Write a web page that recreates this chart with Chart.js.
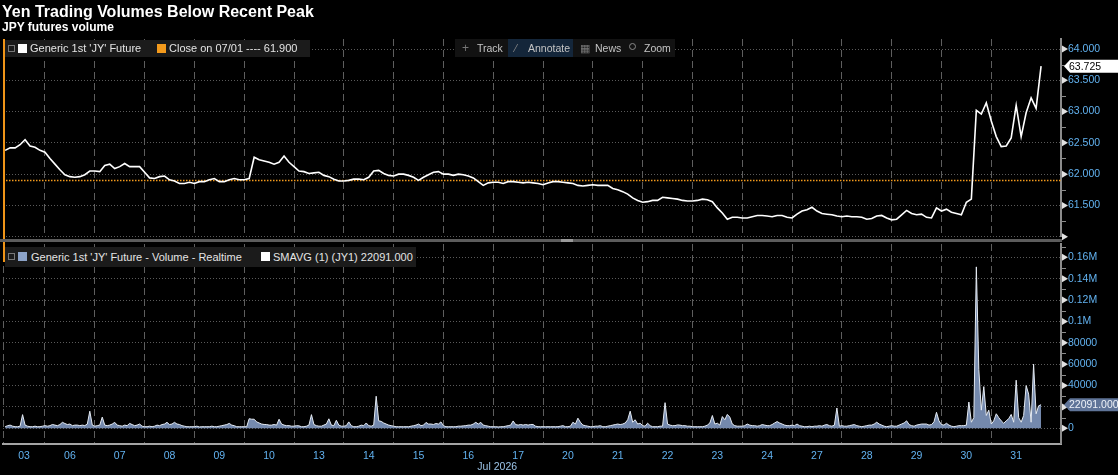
<!DOCTYPE html>
<html>
<head>
<meta charset="utf-8">
<script src="https://cdn.jsdelivr.net/npm/chart.js@4.4.1/dist/chart.umd.min.js"></script>
<style>
html,body{margin:0;padding:0;background:#000;width:1118px;height:475px;overflow:hidden;font-family:"Liberation Sans",Arial,sans-serif;}
#wrap{position:relative;width:1118px;height:475px;background:#000;}
canvas{position:absolute;left:0;}
.t{position:absolute;color:#fff;white-space:nowrap;}
.box{position:absolute;background:#1b1b1b;}
.lt{position:absolute;font-size:11px;color:#e4e4e4;white-space:nowrap;}
.sq{position:absolute;width:9px;height:9px;}
.ic{position:absolute;width:5px;height:5px;border:1px solid #777;}
.tb{position:absolute;font-size:10.5px;color:#c4c4c4;white-space:nowrap;line-height:18px;top:39px;}
</style>
</head>
<body>
<div id="wrap">
<canvas id="cTop" width="1118" height="242" style="top:0;width:1118px;height:242px"></canvas>
<canvas id="cBot" width="1118" height="233" style="top:242px;width:1118px;height:233px"></canvas>

<div class="t" style="left:2px;top:2px;font:bold 16px 'Liberation Sans',Arial,sans-serif;line-height:19px;">Yen Trading Volumes Below Recent Peak</div>
<div class="t" style="left:2px;top:20px;font:bold 12px 'Liberation Sans',Arial,sans-serif;line-height:14px;">JPY futures volume</div>

<div style="position:absolute;left:3px;top:39px;width:2px;height:223px;background:#ef9418;"></div>
<div style="position:absolute;left:0;top:239px;width:1062px;height:3px;background:#5c5c5c;"></div>
<div style="position:absolute;left:561px;top:239px;width:12px;height:3px;background:#9a9a9a;"></div>

<!-- top legend -->
<div class="box" style="left:5px;top:40px;width:305px;height:17px;"></div>
<div class="ic" style="left:8px;top:45px;"></div>
<div class="sq" style="left:18px;top:44px;background:#fff;"></div>
<div class="lt" style="left:30px;top:40px;line-height:17px;">Generic 1st 'JY' Future</div>
<div class="sq" style="left:157px;top:44px;background:#f39a1c;"></div>
<div class="lt" style="left:169px;top:40px;line-height:17px;">Close on 07/01 ---- 61.900</div>

<!-- toolbar -->
<div class="box" style="left:455px;top:39px;width:220px;height:18px;background:#121212;"></div>
<div class="box" style="left:508px;top:39px;width:65px;height:18px;background:#14263a;"></div>
<div class="tb" style="left:462px;color:#777;font-size:12px;">+</div>
<div class="tb" style="left:477px;">Track</div>
<div class="tb" style="left:515px;color:#888;">&#8260;</div>
<div class="tb" style="left:528px;">Annotate</div>
<div class="tb" style="left:580px;color:#777;">&#9638;</div>
<div class="tb" style="left:595px;">News</div>
<div style="position:absolute;left:629px;top:43px;width:5px;height:5px;border:1px solid #888;border-radius:50%;"></div>
<div class="tb" style="left:644px;">Zoom</div>

<!-- bottom legend -->
<div class="box" style="left:5px;top:247px;width:411px;height:20px;"></div>
<div class="ic" style="left:8px;top:253px;"></div>
<div class="sq" style="left:18px;top:252px;background:#8ca3c8;"></div>
<div class="lt" style="left:31px;top:247px;line-height:20px;">Generic 1st 'JY' Future - Volume - Realtime</div>
<div class="sq" style="left:261px;top:252px;background:#fff;"></div>
<div class="lt" style="left:273px;top:247px;line-height:20px;">SMAVG (1) (JY1) 22091.000</div>
</div>

<script>
// ---------------- data ----------------
// day session boundaries (x index units) and day labels
const dayBounds = [-0.3, 8, 18, 28, 38, 48, 58, 68, 78, 88, 98, 108, 118, 128, 138, 148, 158, 168, 178, 188, 198];
const dayLabelPos = [3.8, 13, 23, 33, 43, 53, 63, 73, 83, 93, 103, 113, 123, 133, 143, 153, 163, 173, 183, 193, 203];
const dayLabels = ['03','06','07','08','09','10','13','14','15','16','17','20','21','22','23','24','27','28','29','30','31'];
const monthLabel = 'Jul 2026';
const monthLabelPos = 98.8;

// price axis ticks
const priceTicks = [61.0, 61.5, 62.0, 62.5, 63.0, 63.5, 64.0];
const priceTickLabels = ['', '61.500', '62.000', '62.500', '63.000', '63.500', '64.000'];
// volume axis ticks (thousands of contracts)
const volTicks = [0, 20, 40, 60, 80, 100, 120, 140, 160];
const volTickLabels = ['0', '20000', '40000', '60000', '80000', '0.1M', '0.12M', '0.14M', '0.16M'];

const closeLevel = 61.9;

// Generic 1st 'JY' Future price, one value per x step
const priceVals = [
62.38,62.42,62.42,62.47,62.55,62.45,62.43,62.38,62.35,62.25,
62.16,62.07,61.99,61.96,61.95,61.96,61.99,62.05,62.05,62.04,
62.14,62.16,62.09,62.12,62.17,62.12,62.12,62.12,62.03,61.94,
61.93,61.96,61.97,61.91,61.89,61.85,61.85,61.87,61.85,61.88,
61.88,61.91,61.93,61.88,61.88,61.91,61.93,61.91,61.91,61.93,
62.27,62.23,62.21,62.19,62.16,62.19,62.29,62.19,62.12,62.05,
62.04,62.01,62.02,62.03,61.98,61.96,61.92,61.89,61.89,61.90,
61.92,61.92,61.91,61.95,62.05,62.06,62.01,61.98,61.97,62.00,
62.00,61.98,61.95,61.90,61.95,61.99,62.03,62.04,62.00,62.00,
61.98,62.00,61.99,61.97,61.94,61.88,61.82,61.86,61.87,61.87,
61.85,61.88,61.88,61.87,61.86,61.87,61.86,61.85,61.83,61.86,
61.88,61.88,61.87,61.86,61.85,61.82,61.81,61.82,61.83,61.82,
61.82,61.82,61.77,61.75,61.72,61.68,61.62,61.58,61.55,61.56,
61.58,61.58,61.63,61.62,61.61,61.60,61.58,61.57,61.57,61.58,
61.60,61.59,61.56,61.46,61.38,61.28,61.31,61.31,61.30,61.30,
61.32,61.34,61.34,61.33,61.32,61.34,61.34,61.31,61.30,61.36,
61.41,61.43,61.47,61.41,61.37,61.36,61.35,61.33,61.32,61.33,
61.32,61.32,61.31,61.28,61.29,61.33,61.34,61.30,61.27,61.28,
61.35,61.42,61.37,61.35,61.36,61.31,61.30,61.46,61.41,61.44,
61.39,61.37,61.35,61.55,61.60,63.02,62.96,63.14,62.85,62.60,
62.44,62.45,62.58,63.10,62.60,62.98,63.22,63.05,63.725
];

// Volume (thousands of contracts), two values per x step
const volK = [
1.5,2.5,3,2,1.5,1.5,2,12.8,3,2,
1.5,1.5,2,1.5,1.5,2,2.5,2,2.5,3.6,
3,2.5,3.5,5.6,4.5,3.5,4,2.5,3,3,
2.5,3,2.5,4,16,3,2,2.5,3,10.5,
3,2.5,3,4,5.6,3,2.5,2,3,2.5,
4.6,3.5,2.5,3,4,2,1.5,1.5,2,1.5,
2,3,2.5,3.5,4,5.6,3.5,4,5.6,4,
3.6,2.5,2,1.5,1.5,1.5,1.5,2,1.3,1.5,
1.5,1.5,1.5,2,1.5,1.5,2,2.5,3,3.5,
4.6,3,2.5,1.5,1.5,1.5,1.5,1.5,9,8.5,
8.5,6,5,4,3.6,3.5,3,3,3.6,3,
8.5,4,3,2.5,2.5,2,2,2.5,2.3,1.5,
1.5,2,3,12.8,3.5,2.5,2,2,3,4,
8.9,3,2.5,7.5,3,2,2,2.5,6,2.5,
1.5,1.5,2,3,2.5,5,2.5,2,3,30,
7,6.5,5,4,3,2.5,2,1.5,1.5,1.5,
1.5,1.5,1.5,2,2.5,3,4,2.5,3,5.5,
4,4,3.6,4.5,4,6,2.5,1.5,1.5,1.5,
1.5,1.5,2,2,2.3,2.5,3,3,4,5.6,
4,5.6,3,2.5,2,1.5,1.5,1.5,1.3,1.5,
1.5,2,2.5,3,6.9,3.5,3,3.6,3,3.6,
3,3.6,3.6,2,1.5,1.5,1.5,1.5,1.5,1.5,
1.5,1.5,1.5,2,2.5,1.5,1.5,2,5.7,4,
9.5,5.7,3,2.5,2,1.5,1.5,2,2,2.5,
1.5,1.5,2,2.5,3,3.5,4,3.5,4,5,
8,16,5.7,8,4,4.8,2.5,2,4.8,2.5,
1.5,1.5,1.5,2,2,24,4,3,2.5,2.5,
3.2,3,2.5,2.5,2,2,1.5,1.5,1.5,1.5,
1.5,2,3,5,12,4,4.8,3,11,8,
13,10.5,4,2.5,2,2,2,2.5,4,3,
2.5,2.5,2,2.5,3.5,3,2.5,2.5,3.5,5,
6.3,5,4,3,2.5,2.5,3,2.5,4,2.5,
2,1.5,1.5,2,1.5,2,2,2.5,2,3,
3.5,2.5,2,3,19,2,2.5,2,2,2.5,
3,3.5,2.5,2,1.5,2,2.5,3,3,4,
5.7,4,3,2,1.5,2,2.5,2,2,3,
4,5,7,3.5,2.5,2,3,3.5,4,4,
4,3,3.5,6,15,7,3.5,3,4.7,3,
2,1.5,2,2.5,2.5,2.5,3,24.6,5.7,10,
151,55,17,39,12,17,4,7,13.6,10,
7,4.7,7,9,13,5.7,45,10,5.7,12,
40,32,5.7,60,13.6,21,22.091
];

// ---------------- styling ----------------
const FONT = "'Liberation Sans', Arial, sans-serif";
const AXIS_BLUE = '#62b2f0';
const X_MIN = -0.43, X_MAX = 212;

function fixWidth(s){ s.width = 57; s.paddingTop = 0; s.paddingBottom = 0; }
function noPadH(h){ return s => { s.height = h; s.paddingLeft = 0; s.paddingRight = 0; }; }

function axisDecor(id){
  return {
    id: id,
    afterDraw(chart, args, o){
      const y = chart.scales.y, ctx = chart.ctx;
      const x0 = y.left;
      const tv = y.ticks.map(t => t.value);
      ctx.save();
      ctx.strokeStyle = '#8c8c8c'; ctx.lineWidth = 1;
      for (let k = 0; k < tv.length; k++){
        const m = k < tv.length - 1 ? (tv[k] + tv[k+1]) / 2 : tv[k] + (tv[1]-tv[0]) / 2;
        if (m > y.max || m < y.min) continue;
        const py = Math.round(y.getPixelForValue(m)) + 0.5;
        ctx.beginPath(); ctx.moveTo(x0 + 1, py); ctx.lineTo(x0 + 5, py); ctx.stroke();
      }
      ctx.fillStyle = '#e2e2e2';
      for (const v of tv){
        const py = y.getPixelForValue(v);
        ctx.beginPath(); ctx.moveTo(x0 + 1, py - 3.5); ctx.lineTo(x0 + 7, py); ctx.lineTo(x0 + 1, py + 3.5); ctx.closePath(); ctx.fill();
      }
      // last value tag
      const py = y.getPixelForValue(o.value);
      ctx.fillStyle = o.bg;
      ctx.beginPath();
      ctx.moveTo(x0 + 3, py);
      ctx.lineTo(x0 + 9, py - 6.5);
      ctx.lineTo(chart.width, py - 6.5);
      ctx.lineTo(chart.width, py + 6.5);
      ctx.lineTo(x0 + 9, py + 6.5);
      ctx.closePath(); ctx.fill();
      ctx.fillStyle = o.fg;
      ctx.font = '10.5px ' + FONT;
      ctx.textAlign = 'left'; ctx.textBaseline = 'middle';
      ctx.fillText(o.text, x0 + 8, py + 0.5);
      if (o.month){
        const xl = chart.scales.xl;
        ctx.fillStyle = '#9cc4e8';
        ctx.textAlign = 'center';
        ctx.fillText(monthLabel, xl.getPixelForValue(monthLabelPos), 225);
      }
      ctx.restore();
    }
  };
}

const lastPrice = priceVals[priceVals.length - 1];
const lastVol = volK[volK.length - 1];

new Chart(document.getElementById('cTop'), {
  type: 'line',
  data: {
    datasets: [
      { data: priceVals.map((v, i) => ({x: i, y: v})), borderColor: '#ffffff', borderWidth: 1.6,
        pointRadius: 0, tension: 0, order: 1 },
      { data: [{x: X_MIN, y: closeLevel}, {x: X_MAX, y: closeLevel}], borderColor: '#f39a1c',
        borderWidth: 1.5, borderDash: [1.5, 1.5], pointRadius: 0, order: 2 }
    ]
  },
  options: {
    responsive: false, animation: false, events: [],
    layout: { padding: { left: 3, top: 39, right: 0, bottom: 5.3 } },
    plugins: { legend: { display: false }, tooltip: { enabled: false },
      decorTop: { value: lastPrice, text: lastPrice.toFixed(3), bg: '#ffffff', fg: '#000000' } },
    scales: {
      x: { type: 'linear', min: X_MIN, max: X_MAX,
        afterBuildTicks: s => { s.ticks = dayBounds.map(v => ({value: v})); },
        ticks: { display: false },
        grid: { color: '#5e5e5e', lineWidth: 1, drawTicks: false },
        border: { display: false, dash: [7, 4] },
        afterFit: noPadH(0) },
      y: { position: 'right', min: 61.0, max: 64.16,
        afterBuildTicks: s => { s.ticks = priceTicks.map(v => ({value: v})); },
        ticks: { color: AXIS_BLUE, font: { family: FONT, size: 10.5 }, padding: 7,
          callback: (v, idx) => priceTickLabels[idx] },
        grid: { color: '#5a5a5a', lineWidth: 1, drawTicks: false },
        border: { display: true, color: '#8c8c8c', width: 2, dash: [1, 2] },
        afterFit: fixWidth }
    }
  },
  plugins: [axisDecor('decorTop')]
});

new Chart(document.getElementById('cBot'), {
  type: 'line',
  data: {
    datasets: [
      { data: volK.map((v, j) => ({x: j / 2, y: v})), xAxisID: 'xg', yAxisID: 'y',
        borderColor: '#e4eaf2', borderWidth: 1, backgroundColor: '#7489ad', fill: 'origin',
        pointRadius: 0, tension: 0 }
    ]
  },
  options: {
    responsive: false, animation: false, events: [],
    layout: { padding: { left: 3, top: 2, right: 0, bottom: 0 } },
    plugins: { legend: { display: false }, tooltip: { enabled: false },
      decorBot: { value: lastVol, text: (lastVol * 1000).toFixed(3), bg: '#5f7498', fg: '#eef2f8', month: true } },
    scales: {
      xg: { type: 'linear', position: 'bottom', min: X_MIN, max: X_MAX,
        afterBuildTicks: s => { s.ticks = dayBounds.map(v => ({value: v})); },
        ticks: { display: false },
        grid: { color: '#5e5e5e', lineWidth: 1, drawTicks: false },
        border: { display: true, color: '#a4a4a4', width: 2, dash: [7, 4] },
        afterFit: noPadH(0) },
      xl: { type: 'linear', position: 'bottom', min: X_MIN, max: X_MAX,
        afterBuildTicks: s => { s.ticks = dayLabelPos.map(v => ({value: v})); },
        ticks: { color: AXIS_BLUE, font: { family: FONT, size: 10.5 }, padding: 6, autoSkip: false,
          maxRotation: 0, callback: (v, idx) => dayLabels[idx] },
        grid: { display: false, drawTicks: false },
        border: { display: false },
        afterFit: noPadH(31.5) },
      y: { position: 'right', min: -14.2, max: 172.4,
        afterBuildTicks: s => { s.ticks = volTicks.map(v => ({value: v})); },
        ticks: { color: AXIS_BLUE, font: { family: FONT, size: 10.5 }, padding: 7,
          callback: (v, idx) => volTickLabels[idx] },
        grid: { color: '#5a5a5a', lineWidth: 1, drawTicks: false },
        border: { display: true, color: '#8c8c8c', width: 2, dash: [1, 2] },
        afterFit: fixWidth }
    }
  },
  plugins: [axisDecor('decorBot')]
});
</script>
</body>
</html>
